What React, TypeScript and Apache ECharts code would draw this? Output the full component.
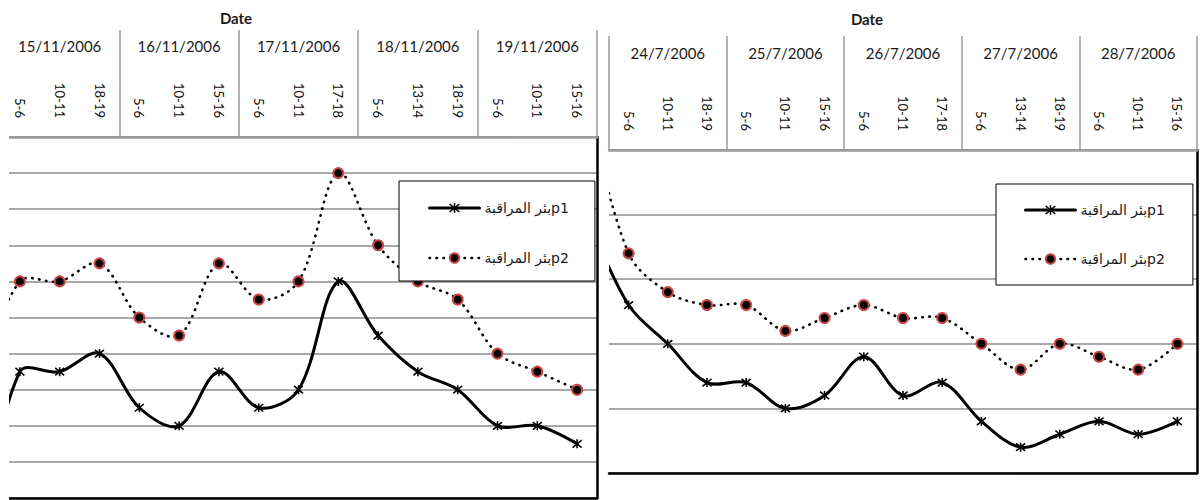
import React, { useEffect, useRef } from "react";
import * as echarts from "echarts";

// ---------- Data ----------
const slotsLeft = ["5-6", "10-11", "18-19", "5-6", "10-11", "15-16", "5-6", "10-11", "17-18", "5-6", "13-14", "18-19", "5-6", "10-11", "15-16"];
const datesLeft = ["15/11/2006", "16/11/2006", "17/11/2006", "18/11/2006", "19/11/2006"];
const p1Left = [3.5, 3.5, 4, 2.5, 2, 3.5, 2.5, 3, 6, 4.5, 3.5, 3, 2, 2, 1.5];
const p2Left = [6, 6, 6.5, 5, 4.5, 6.5, 5.5, 6, 9, 7, 6, 5.5, 4, 3.5, 3];
// value of the preceding (cropped-off) reading, only its curve stub is visible
const p1LeftLead = -1;
const p2LeftLead = 3.3;

const slotsRight = ["5-6", "10-11", "18-19", "5-6", "10-11", "15-16", "5-6", "10-11", "17-18", "5-6", "13-14", "18-19", "5-6", "10-11", "15-16"];
const datesRight = ["24/7/2006", "25/7/2006", "26/7/2006", "27/7/2006", "28/7/2006"];
const p1Right = [2.6, 2.0, 1.4, 1.4, 1.0, 1.2, 1.8, 1.2, 1.4, 0.8, 0.4, 0.6, 0.8, 0.6, 0.8];
const p2Right = [3.4, 2.8, 2.6, 2.6, 2.2, 2.4, 2.6, 2.4, 2.4, 2.0, 1.6, 2.0, 1.8, 1.6, 2.0];
const p1RightLead = 3.9;
const p2RightLead = 5.6;

const NAME_P1 = "بئر المراقبةp1";
const NAME_P2 = "بئر المراقبةp2";

// ---------- Styles ----------
const STAR = "path://M0,0L10,10M10,0L0,10M5,-1L5,11";
const P1_LINE = { width: 3, type: "solid" as any, cap: "round" as any };
const P2_LINE = { width: 2.6, type: [0.5, 6.5] as any, cap: "round" as any };
const P1_ITEM = { color: "#000", borderColor: "#000", borderWidth: 1.6 };
const P2_ITEM = { color: "#000", borderColor: "#c84646", borderWidth: 2 };
const GRID_GRAY = "#a9a9a9";
const AXIS_GRAY = "#9a9a9a";
const TEXT = "#1a1a1a";

function buildAxes(gridIndex: number, slots: string[], dates: string[], tickLen: number, dateMargin: number) {
  return [
    {
      type: "category",
      gridIndex,
      position: "top",
      data: slots,
      boundaryGap: true,
      axisLine: { show: true, onZero: false, lineStyle: { color: AXIS_GRAY, width: 2.5 } },
      axisTick: { show: false },
      axisLabel: { interval: 0, rotate: 90, margin: 19, fontSize: 13, fontFamily: "Lato", color: "#0d0d0d" },
      splitLine: { show: false },
      z: 5,
    },
    {
      type: "category",
      gridIndex,
      position: "top",
      data: dates,
      boundaryGap: true,
      axisLine: { show: false, onZero: false },
      axisTick: { show: true, length: tickLen, lineStyle: { color: AXIS_GRAY, width: 1.5 } },
      axisLabel: { interval: 0, margin: dateMargin, verticalAlign: "middle", fontSize: 15, fontFamily: "Lato", color: TEXT },
      splitLine: { show: false },
    },
    {
      type: "value",
      gridIndex,
      position: "bottom",
      min: -0.5,
      max: 14.5,
      axisLine: { show: true, onZero: false, lineStyle: { color: "#000", width: 2.5 } },
      axisTick: { show: false },
      axisLabel: { show: false },
      splitLine: { show: false },
    },
  ];
}

function curve(values: number[], lead: number, xi: number, yi: number, line: any) {
  return {
    type: "custom",
    xAxisIndex: xi,
    yAxisIndex: yi,
    clip: true,
    silent: true,
    z: 2,
    data: [[0, values[0]]],
    renderItem: (_params: any, api: any) => {
      const pts = [api.coord([-1, lead])].concat(values.map((v, i) => api.coord([i, v])));
      return {
        type: "polyline",
        shape: { points: pts, smooth: 0.34 },
        style: {
          fill: null,
          stroke: "#000",
          lineWidth: line.width,
          lineDash: Array.isArray(line.type) ? line.type : null,
          lineCap: "round",
          lineJoin: "round",
        },
      };
    },
  };
}

function markers(name: string, values: number[], xi: number, yi: number, isP1: boolean) {
  return {
    type: "line",
    name,
    xAxisIndex: xi,
    yAxisIndex: yi,
    data: values.map((v, i) => [i, v]),
    showSymbol: true,
    symbol: isP1 ? STAR : "circle",
    symbolSize: isP1 ? 9 : 10,
    itemStyle: isP1 ? P1_ITEM : P2_ITEM,
    lineStyle: { ...(isP1 ? P1_LINE : P2_LINE), color: "#000", opacity: 0 },
    z: 3,
    silent: true,
  };
}

function legendFor(left: number, top: number, pad: number[], gap: number) {
  return {
    left,
    top,
    orient: "vertical",
    padding: pad,
    itemGap: gap,
    itemWidth: 50,
    itemHeight: 12,
    selectedMode: false,
    borderColor: "#000",
    borderWidth: 1,
    borderRadius: 0,
    backgroundColor: "#fff",
    textStyle: { fontFamily: "DejaVu Sans", fontSize: 14, color: TEXT },
    data: [
      { name: NAME_P1, lineStyle: { color: "#000", opacity: 1, width: 3, type: "solid", cap: "round" }, itemStyle: { ...P1_ITEM, opacity: 1 } },
      { name: NAME_P2, lineStyle: { color: "#000", opacity: 1, width: 2.6, type: [0.5, 6.5], cap: "round" }, itemStyle: { ...P2_ITEM, opacity: 1 } },
    ],
    z: 10,
  };
}

export default function App() {
  const ref = useRef<HTMLDivElement>(null);

  useEffect(() => {
    if (!ref.current) return;
    const chart = echarts.init(ref.current, undefined, { renderer: "svg" });

    const option: any = {
      animation: false,
      backgroundColor: "#fff",
      textStyle: { fontFamily: "Lato" },
      grid: [
        { left: -3, top: 137, width: 600, height: 361 },
        { left: 609, top: 150, width: 588, height: 323 },
      ],
      xAxis: [
        ...buildAxes(0, slotsLeft, datesLeft, 107, 91),
        ...buildAxes(1, slotsRight, datesRight, 114, 97),
      ],
      yAxis: [
        {
          type: "value",
          gridIndex: 0,
          position: "right",
          min: 0,
          max: 10,
          interval: 1,
          axisLine: { show: true, onZero: false, lineStyle: { color: "#000", width: 2.5 } },
          axisTick: { show: false },
          axisLabel: { show: false },
          splitLine: { show: true, lineStyle: { color: GRID_GRAY, width: 2 } },
        },
        {
          type: "value",
          gridIndex: 1,
          position: "right",
          min: 0,
          max: 5,
          interval: 1,
          axisLine: { show: true, onZero: false, lineStyle: { color: "#000", width: 2.5 } },
          axisTick: { show: false },
          axisLabel: { show: false },
          splitLine: { show: true, lineStyle: { color: GRID_GRAY, width: 2 } },
        },
      ],
      legend: [
        legendFor(399, 181, [20, 26, 16, 29], 36),
        legendFor(996, 184, [19, 28, 19, 28], 35),
      ],
      series: [
        curve(p2Left, p2LeftLead, 2, 0, P2_LINE),
        curve(p1Left, p1LeftLead, 2, 0, P1_LINE),
        markers(NAME_P1, p1Left, 2, 0, true),
        markers(NAME_P2, p2Left, 2, 0, false),
        curve(p2Right, p2RightLead, 5, 1, P2_LINE),
        curve(p1Right, p1RightLead, 5, 1, P1_LINE),
        markers(NAME_P1, p1Right, 5, 1, true),
        markers(NAME_P2, p2Right, 5, 1, false),
      ],
      graphic: [
        { type: "rect", left: 0, top: 0, shape: { width: 9, height: 500 }, style: { fill: "#fff" }, z: 100 },
        {
          type: "text",
          x: 236,
          y: 18,
          z: 100,
          style: { text: "Date", fontFamily: "Lato", fontWeight: "bold", fontSize: 15, fill: TEXT, align: "center", verticalAlign: "middle" },
        },
        {
          type: "text",
          x: 867,
          y: 19,
          z: 100,
          style: { text: "Date", fontFamily: "Lato", fontWeight: "bold", fontSize: 15, fill: TEXT, align: "center", verticalAlign: "middle" },
        },
      ],
    };

    chart.setOption(option);
    return () => chart.dispose();
  }, []);

  return <div ref={ref} style={{ position: "absolute", left: 0, top: 0, width: 1200, height: 500 }} />;
}
